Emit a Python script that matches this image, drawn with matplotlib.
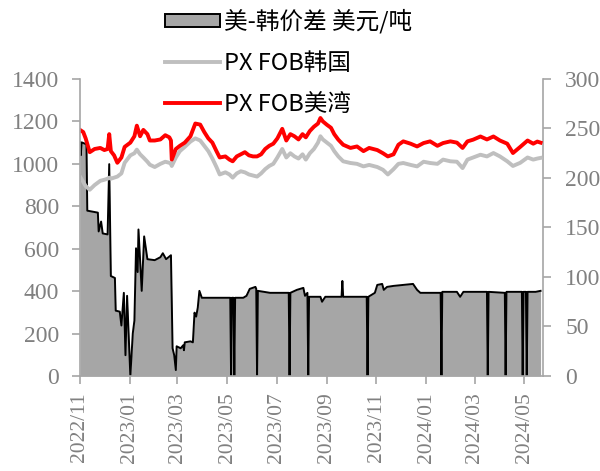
import pandas as pd
import matplotlib.pyplot as plt
import matplotlib.dates as mdates
from matplotlib.patches import Patch
from matplotlib.lines import Line2D

plt.rcParams['font.family'] = ['Liberation Serif', 'DejaVu Serif']

# PX FOB 韩国 / 美湾 (美元/吨, 左轴)
px_dates = ["2022-11-01", "2022-11-05", "2022-11-08", "2022-11-13", "2022-11-19", "2022-11-26",
            "2022-12-01", "2022-12-05", "2022-12-07", "2022-12-09", "2022-12-13", "2022-12-17",
            "2022-12-22", "2022-12-26", "2023-01-02", "2023-01-07", "2023-01-10", "2023-01-14",
            "2023-01-18", "2023-01-23", "2023-01-26", "2023-02-01", "2023-02-08", "2023-02-14",
            "2023-02-19", "2023-02-21", "2023-02-22", "2023-02-27", "2023-03-04", "2023-03-10",
            "2023-03-17", "2023-03-23", "2023-03-29", "2023-04-03", "2023-04-08", "2023-04-13",
            "2023-04-18", "2023-04-22", "2023-04-29", "2023-05-04", "2023-05-08", "2023-05-13",
            "2023-05-18", "2023-05-23", "2023-05-28", "2023-06-02", "2023-06-07", "2023-06-12",
            "2023-06-17", "2023-06-22", "2023-06-27", "2023-07-02", "2023-07-08", "2023-07-13",
            "2023-07-18", "2023-07-23", "2023-07-28", "2023-08-02", "2023-08-06", "2023-08-11",
            "2023-08-16", "2023-08-21", "2023-08-24", "2023-08-27", "2023-09-01", "2023-09-06",
            "2023-09-10", "2023-09-15", "2023-09-21", "2023-09-30", "2023-10-08", "2023-10-16",
            "2023-10-23", "2023-11-02", "2023-11-09", "2023-11-15", "2023-11-22", "2023-11-28",
            "2023-12-04", "2023-12-13", "2023-12-21", "2023-12-29", "2024-01-06", "2024-01-15",
            "2024-01-22", "2024-01-31", "2024-02-08", "2024-02-15", "2024-02-21", "2024-02-28",
            "2024-03-08", "2024-03-16", "2024-03-24", "2024-04-01", "2024-04-10", "2024-04-17",
            "2024-04-26", "2024-05-05", "2024-05-12", "2024-05-17", "2024-05-21"]

px_us = [1160, 1150, 1120, 1055, 1070, 1075, 1065, 1070, 1140, 1060, 1040, 1005,
         1030, 1080, 1100, 1130, 1180, 1130, 1160, 1140, 1110, 1110, 1115, 1135,
         1125, 1110, 1020, 1070, 1085, 1100, 1130, 1190, 1185, 1150, 1120, 1100,
         1060, 1030, 1035, 1020, 1012, 1035, 1045, 1055, 1040, 1035, 1035, 1045,
         1070, 1085, 1095, 1120, 1165, 1110, 1140, 1130, 1115, 1140, 1125, 1155,
         1175, 1190, 1216, 1200, 1184, 1170, 1140, 1114, 1090, 1075, 1082, 1060,
         1075, 1065, 1050, 1035, 1045, 1090, 1106, 1095, 1082, 1098, 1106, 1085,
         1098, 1106, 1100, 1075, 1106, 1114, 1129, 1115, 1129, 1110, 1095, 1051,
         1080, 1110, 1095, 1105, 1100]

px_kr = [940, 915, 895, 878, 900, 920, 925, 930, 935, 930, 935, 940,
         955, 1005, 1040, 1050, 1067, 1045, 1030, 1010, 996, 985, 1000, 1010,
         1005, 1000, 990, 1030, 1060, 1080, 1105, 1120, 1110, 1085, 1060, 1025,
         985, 950, 960, 950, 935, 955, 965, 960, 950, 945, 940, 955,
         975, 990, 1000, 1030, 1070, 1030, 1050, 1035, 1025, 1045, 1020, 1050,
         1070, 1100, 1130, 1115, 1100, 1085, 1060, 1035, 1012, 1004, 1000, 988,
         995, 985, 972, 950, 975, 1000, 1004, 995, 988, 1010, 1004, 1000,
         1020, 1012, 1010, 980, 1020, 1030, 1043, 1035, 1051, 1035, 1012, 990,
         1005, 1030, 1020, 1025, 1028]

# 美-韩价差 (美元/吨, 右轴)
spread_dates = ["2022-11-01", "2022-11-02", "2022-11-03", "2022-11-09", "2022-11-10", "2022-11-23",
                "2022-11-24", "2022-11-27", "2022-11-29", "2022-12-05", "2022-12-07", "2022-12-09",
                "2022-12-14", "2022-12-15", "2022-12-20", "2022-12-22", "2022-12-25", "2022-12-27",
                "2022-12-29", "2023-01-02", "2023-01-05", "2023-01-07", "2023-01-09", "2023-01-11",
                "2023-01-12", "2023-01-16", "2023-01-19", "2023-01-23", "2023-02-01", "2023-02-08",
                "2023-02-11", "2023-02-15", "2023-02-21", "2023-02-23", "2023-02-25", "2023-02-27",
                "2023-02-28", "2023-03-05", "2023-03-08", "2023-03-09", "2023-03-10", "2023-03-17",
                "2023-03-20", "2023-03-22", "2023-03-24", "2023-03-26", "2023-03-28", "2023-03-31",
                "2023-05-05", "2023-05-06", "2023-05-07", "2023-05-09", "2023-05-10", "2023-05-11",
                "2023-05-21", "2023-05-25", "2023-05-29", "2023-06-05", "2023-06-06", "2023-06-07",
                "2023-06-08", "2023-06-23", "2023-07-16", "2023-07-17", "2023-07-18", "2023-07-26",
                "2023-08-03", "2023-08-05", "2023-08-08", "2023-08-09", "2023-08-10", "2023-08-24",
                "2023-08-26", "2023-08-30", "2023-09-19", "2023-09-20", "2023-09-21", "2023-10-20",
                "2023-10-21", "2023-10-22", "2023-10-30", "2023-11-02", "2023-11-08", "2023-11-10",
                "2023-11-14", "2023-11-22", "2023-12-16", "2023-12-21", "2023-12-25", "2024-01-19",
                "2024-01-20", "2024-01-21", "2024-02-08", "2024-02-12", "2024-02-16", "2024-03-16",
                "2024-03-17", "2024-03-18", "2024-04-07", "2024-04-08", "2024-04-09", "2024-04-28",
                "2024-04-29", "2024-04-30", "2024-05-03", "2024-05-04", "2024-05-05", "2024-05-15",
                "2024-05-21"]

spread = [236, 223, 236, 234, 167, 165,
          146, 156, 144, 143, 214, 101,
          99, 66, 65, 51, 84, 21,
          81, 0, 43, 56, 129, 105,
          148, 86, 141, 118, 117, 120,
          124, 118, 122, 28, 21, 6,
          30, 28, 31, 26, 34, 35,
          34, 64, 60, 69, 86, 79,
          79, 0, 79, 79, 0, 79,
          79, 81, 88, 90, 88, 0,
          86, 84, 84, 0, 84, 87,
          89, 81, 84, 0, 80, 80,
          75, 80, 80, 96, 80, 80,
          0, 80, 84, 92, 93, 87,
          90, 91, 93, 87, 84, 84,
          0, 85, 85, 80, 85, 85,
          0, 85, 84, 0, 85, 85,
          0, 85, 85, 0, 85, 85,
          86]

px_d = pd.to_datetime(px_dates)
sp_d = pd.to_datetime(spread_dates)

tick_color = '#808080'
spine_color = '#a6a6a6'

fig = plt.figure(figsize=(6, 4.71), dpi=100)
ax = fig.add_axes([0.1333, 0.2017, 0.7717, 0.6306])
ax2 = ax.twinx()

ax2.fill_between(sp_d, spread, 0, color='#a6a6a6', linewidth=0)
ax2.plot(sp_d, spread, color='black', linewidth=1.4)

ax.plot(px_d, px_kr, color='#bfbfbf', linewidth=2.8)
ax.plot(px_d, px_us, color='#ff0000', linewidth=2.8)

ax.set_zorder(ax2.get_zorder() + 1)
ax.patch.set_visible(False)

ax.set_ylim(0, 1400)
ax2.set_ylim(0, 300)
ax.set_yticks(range(0, 1401, 200))
ax2.set_yticks(range(0, 301, 50))
ax.set_xlim(pd.Timestamp("2022-11-01"), pd.Timestamp("2024-05-24"))
ax.set_xticks(pd.date_range("2022-11-01", "2024-05-01", freq="2MS"))
ax.xaxis.set_major_formatter(mdates.DateFormatter('%Y/%m'))

for a in (ax, ax2):
    for s in a.spines.values():
        s.set_color(spine_color)
        s.set_linewidth(1.2)
    a.spines['top'].set_visible(False)
    a.tick_params(colors=spine_color, labelcolor=tick_color, length=6, width=1.2,
                  pad=9, labelsize=17)
ax.spines['right'].set_visible(False)
ax2.spines['left'].set_visible(False)
ax2.spines['bottom'].set_visible(False)
ax2.tick_params(axis='y', pad=10)
ax.tick_params(axis='x', labelrotation=90, labelsize=15.5, pad=6)

handles = [Patch(facecolor='#a6a6a6', edgecolor='black', linewidth=1.4),
           Line2D([], [], color='#bfbfbf', linewidth=2.8),
           Line2D([], [], color='#ff0000', linewidth=2.8)]
labels = ["美-韩价差 美元/吨", "PX FOB韩国", "PX FOB美湾"]
fig.legend(handles, labels, loc='upper left', bbox_to_anchor=(0.254, 1.008),
           frameon=False, prop={'family': ['Noto Sans CJK SC', 'DejaVu Sans'], 'size': 17},
           handlelength=2.3, handleheight=0.5, handletextpad=0.2, labelspacing=0.76,
           borderpad=0.05)

fig.savefig("out.png", dpi=100)
